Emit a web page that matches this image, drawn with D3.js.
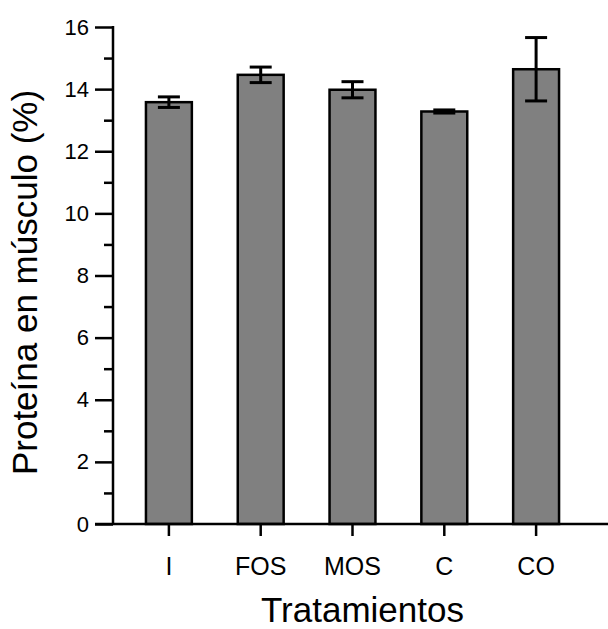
<!DOCTYPE html>
<html>
<head>
	<meta charset="utf-8">
	<title>Proteína en músculo</title>
	<style type="text/css">
		body { margin: 0; background: white; }
		text { font-family: "Liberation Sans", Arial, sans-serif; fill: black; }
	</style>
</head>
<body>
<svg id="chart"></svg>
<script src="https://cdnjs.cloudflare.com/ajax/libs/d3/7.8.5/d3.min.js"></script>
<script type="text/javascript">
	var categories = ["I", "FOS", "MOS", "C", "CO"];
	var means = [13.58, 14.46, 13.98, 13.28, 14.64];
	var errors = [0.17, 0.25, 0.26, 0.05, 1.02];
	var yTicks = [0, 2, 4, 6, 8, 10, 12, 14, 16];
	var yMinorTicks = [1, 3, 5, 7, 9, 11, 13, 15];

	var width = 608,
		height = 629;

	var svg = d3.select("#chart")
		.attr("width", width)
		.attr("height", height)

	var data = categories.map((c, i) => ({ cat: c, mean: means[i], err: errors[i] }))

	var x = d3.scaleBand()
		.domain(categories)
		.range([123, 582])
		.paddingInner(0.5)
		.paddingOuter(0.25)

	var y = d3.scaleLinear()
		.domain([0, 16])
		.range([524, 27])

	// bars
	svg.append("g").selectAll("rect")
		.data(data)
		.enter().append("rect")
		.attr("x", d => x(d.cat))
		.attr("y", d => y(d.mean))
		.attr("width", x.bandwidth())
		.attr("height", d => y(0) - y(d.mean))
		.attr("fill", "#808080")
		.attr("stroke", "black")
		.attr("stroke-width", 2.5)

	// error bars
	var eb = svg.append("g").attr("stroke", "black").attr("stroke-width", 3)
	data.forEach(d => {
		var cx = x(d.cat) + x.bandwidth() / 2
		eb.append("line")
			.attr("x1", cx).attr("x2", cx)
			.attr("y1", y(d.mean + d.err)).attr("y2", y(d.mean - d.err))
		eb.append("line")
			.attr("x1", cx - 11).attr("x2", cx + 11)
			.attr("y1", y(d.mean + d.err)).attr("y2", y(d.mean + d.err))
		eb.append("line")
			.attr("x1", cx - 11).attr("x2", cx + 11)
			.attr("y1", y(d.mean - d.err)).attr("y2", y(d.mean - d.err))
	})

	// y axis
	var yAxis = svg.append("g")
		.attr("transform", "translate(113,0)")
		.call(d3.axisLeft(y).tickValues(yTicks).tickSize(18).tickPadding(6))
	yAxis.select(".domain").remove()
	yAxis.selectAll(".tick line").attr("stroke-width", 2.5)
	yAxis.selectAll(".tick text").style("font-size", "22px")

	svg.append("g")
		.attr("transform", "translate(113,0)")
		.call(d3.axisLeft(y).tickValues(yMinorTicks).tickSize(9).tickFormat(""))
		.call(g => g.select(".domain").remove())
		.selectAll(".tick line").attr("stroke-width", 2.5)

	svg.append("line")
		.attr("x1", 113).attr("x2", 113)
		.attr("y1", y(16) - 1).attr("y2", y(0))
		.attr("stroke", "black").attr("stroke-width", 2.5)

	// x axis
	var xAxis = svg.append("g")
		.attr("transform", "translate(0,524)")
		.call(d3.axisBottom(x).tickSize(12).tickPadding(21))
	xAxis.select(".domain").remove()
	xAxis.selectAll(".tick line").attr("stroke-width", 2.5)
	xAxis.selectAll(".tick text").style("font-size", "25px")

	svg.append("line")
		.attr("x1", 95).attr("x2", 608)
		.attr("y1", y(0)).attr("y2", y(0))
		.attr("stroke", "black").attr("stroke-width", 2.5)

	// titles
	svg.append("text")
		.attr("x", (x.range()[0] + x.range()[1]) / 2 + 10)
		.attr("y", 622)
		.attr("text-anchor", "middle")
		.style("font-size", "35px")
		.text("Tratamientos")

	svg.append("text")
		.attr("transform", "translate(37," + ((y(0) + y(16)) / 2 + 7) + ") rotate(-90)")
		.attr("text-anchor", "middle")
		.style("font-size", "35px")
		.text("Proteína en músculo (%)")
</script>
</body>
</html>
